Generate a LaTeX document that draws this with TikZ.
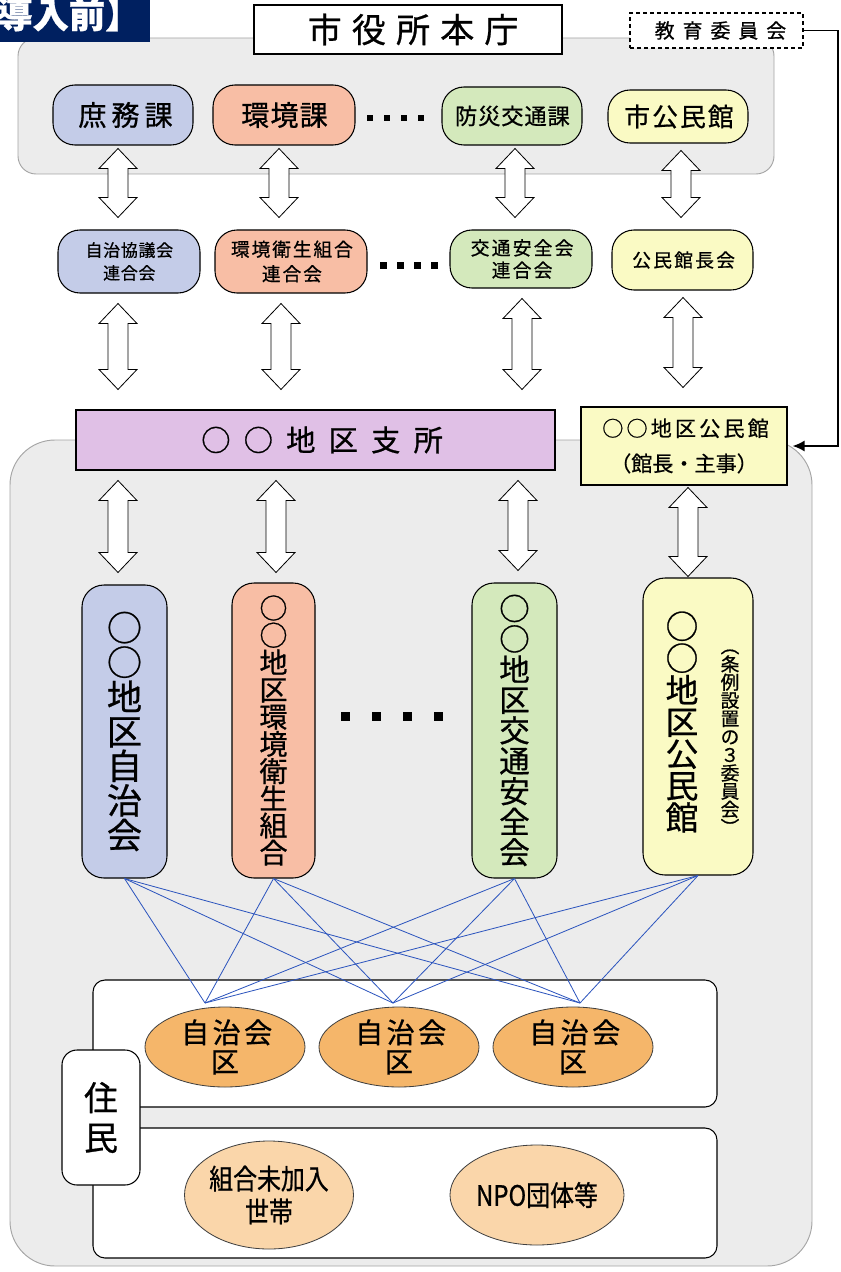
\documentclass[tikz,border=0pt]{standalone}
\usepackage{fontspec}
\setmainfont{Noto Sans CJK JP}[FakeBold=0.7]
\newfontfamily\jpnarrow{Noto Sans CJK JP}[FakeStretch=0.85,FakeBold=0.7]
\usetikzlibrary{calc,arrows.meta,shapes.geometric}
\definecolor{cblue}{RGB}{196,204,232}
\definecolor{csalmon}{RGB}{248,190,165}
\definecolor{cgreen}{RGB}{212,233,188}
\definecolor{cyellow}{RGB}{250,250,196}
\definecolor{cpurple}{RGB}{224,192,230}
\definecolor{cnavy}{RGB}{0,32,96}
\definecolor{cgray}{RGB}{236,236,236}
\definecolor{cgrayline}{RGB}{165,165,165}
\definecolor{corange}{RGB}{245,182,106}
\definecolor{cpeach}{RGB}{250,214,170}
\definecolor{cline}{RGB}{45,85,190}
\newcommand\fs[2]{\fontsize{#1}{#2}\selectfont}
\newcommand\lsp[2]{{\addfontfeatures{LetterSpace=#1}#2}\kern-#1\dimexpr 0.01em\relax}
\newcommand\harr[5]{%
  \draw[harrow] let \p0=(#1,0), \p1=(#2.south), \p2=(#4.north) in
   (\x0,\y1-#3) -- (\x0+5.7mm,\y1-#3-6mm) -- (\x0+3mm,\y1-#3-6mm)
   -- (\x0+3mm,\y2+#5+6mm) -- (\x0+5.7mm,\y2+#5+6mm) -- (\x0,\y2+#5)
   -- (\x0-5.7mm,\y2+#5+6mm) -- (\x0-3mm,\y2+#5+6mm)
   -- (\x0-3mm,\y1-#3-6mm) -- (\x0-5.7mm,\y1-#3-6mm) -- cycle;}
\begin{document}
\begin{tikzpicture}[x=0.3mm,y=-0.3mm,
  region/.style={fill=cgray,draw=cgrayline,line width=0.8pt},
  pill/.style={draw=black,line width=0.9pt,rounded corners=6.6mm,inner sep=0pt,align=center},
  sqbox/.style={draw=black,line width=0.9pt,inner sep=0pt,align=center},
  harrow/.style={draw=black,fill=white,line width=0.7pt,line join=miter},
  bline/.style={draw=cline,line width=0.7pt},
  wbox/.style={draw=black,fill=white,line width=0.9pt,rounded corners=3.6mm},
  oval/.style={ellipse,draw=black!75,line width=0.7pt,inner sep=0pt,align=center},
  dotsq/.style={fill=black}]
\useasboundingbox (0,0) rectangle (840,1272);
% background regions
\draw[region,rounded corners=5.4mm] (18,38) rectangle (774,174);
\draw[region,rounded corners=13.5mm] (10,440) rectangle (812,1266);
% title label
\fill[cnavy] (0,0) rectangle (150,42);
\begin{scope}
\clip (0,0) rectangle (150,42);
\node[anchor=west,inner sep=0pt,text=white,font=\fs{31}{31}\bfseries] (title) at (-4,14) {導入前】};
\end{scope}
% city hall and education board
\node[sqbox,fill=white,minimum width=92.4mm,minimum height=14.7mm,font=\fs{29}{29}] (hq) at (408,29.5) {\lsp{30}{市役所本庁}};
\node[sqbox,fill=white,dash pattern=on 1.2mm off 0.9mm,line width=1pt,minimum width=51.9mm,minimum height=10.5mm,font=\fs{17}{17}] (edu) at (716.5,30.5) {\lsp{40}{教育委員会}};
% top row
\node[pill,fill=cblue,minimum width=42mm,minimum height=18mm,font=\fs{24}{24}] (n1) at (123,115) {\lsp{18}{庶務課}};
\node[pill,fill=csalmon,minimum width=42.6mm,minimum height=18mm,font=\fs{24}{24}] (n2) at (284,115) {\lsp{4}{環境課}};
\node[pill,fill=cgreen,minimum width=42mm,minimum height=17.4mm,font=\fs{19}{19}] (n3) at (512,116) {\lsp{4}{防災交通課}};
\node[pill,fill=cyellow,minimum width=42mm,minimum height=15.9mm,font=\fs{22}{22}] (n4) at (678,116.5) {\lsp{8}{市公民館}};
\foreach \xx in {370,387,404,421} \fill[dotsq] (\xx-3,115) rectangle ++(6,6);
% second row
\node[pill,fill=cblue,minimum width=42.6mm,minimum height=18.9mm,font=\fs{14.5}{19.5}] (m1) at (129,261.5) {\lsp{4}{自治協議会}\\\lsp{4}{連合会}};
\node[pill,fill=csalmon,minimum width=45.6mm,minimum height=18.9mm,font=\fs{16}{21}] (m2) at (291,261.5) {\lsp{10}{環境衛生組合}\\\lsp{10}{連合会}};
\node[pill,fill=cgreen,minimum width=42.6mm,minimum height=17.4mm,font=\fs{16}{19}] (m3) at (521,259) {\lsp{12}{交通安全会}\\\lsp{12}{連合会}};
\node[pill,fill=cyellow,minimum width=42.3mm,minimum height=18mm,font=\fs{16}{16}] (m4) at (682.5,260) {\lsp{12}{公民館長会}};
\foreach \xx in {383,400,417,434} \fill[dotsq] (\xx-3.5,261.5) rectangle ++(7,7);
% district office and community hall
\node[sqbox,fill=cpurple,minimum width=143.7mm,minimum height=18mm,font=\fs{25}{25}] (s) at (315.5,440) {\lsp{45}{○○地区支所}};
\node[sqbox,fill=cyellow,minimum width=61.8mm,minimum height=23.4mm,font=\fs{18}{30}] (k) at (684,446) {\lsp{15}{○○地区公民館}\\（館長・主事）};
% tall boxes
\node[pill,fill=cblue,minimum width=25.5mm,minimum height=87.9mm,font=\fs{30}{29.5}] (t1) at (124.5,731.5) {○\\○\\地\\区\\自\\治\\会};
\node[pill,fill=csalmon,minimum width=24.9mm,minimum height=88.5mm,font=\fs{24}{23.2}] (t2) at (273.5,730.5) {○\\○\\地\\区\\環\\境\\衛\\生\\組\\合};
\node[pill,fill=cgreen,minimum width=25.5mm,minimum height=88.5mm,font=\fs{26}{26}] (t3) at (514.5,730.5) {○\\○\\地\\区\\交\\通\\安\\全\\会};
\node[pill,fill=cyellow,minimum width=33mm,minimum height=89.1mm] (t4) at (698,726.5) {};
\node[inner sep=0pt,align=center,font=\fs{28}{27.2}] (t4a) at (682,722) {○\\○\\地\\区\\公\\民\\館};
\node[inner sep=0pt,align=center,font=\fs{16}{15.5}] (t4b) at (730,742) {︵\\条\\例\\設\\置\\の\\３\\委\\員\\会\\︶};
\foreach \xx in {345,376,407,438} \fill[dotsq] (\xx-4.5,711.5) rectangle ++(9,9);
% hollow double arrows
\harr{118}{n1}{0.9mm}{m1}{3.6mm}
\harr{279}{n2}{0.9mm}{m2}{3.6mm}
\harr{515}{n3}{0.9mm}{m3}{3.6mm}
\harr{681}{n4}{2.1mm}{m4}{3.6mm}
\harr{118}{m1}{3mm}{s}{6mm}
\harr{281}{m2}{3mm}{s}{6mm}
\harr{522}{m3}{3mm}{s}{6mm}
\harr{683}{m4}{2.1mm}{k}{5.7mm}
\harr{118}{s}{3mm}{t1}{3.6mm}
\harr{276}{s}{3mm}{t2}{3mm}
\harr{518}{s}{3mm}{t3}{3.6mm}
\harr{688}{k}{0.6mm}{t4}{0.3mm}
% education board connector
\coordinate (rc) at (838,30.5);
\draw[line width=1.4pt,-{Latex[length=3.6mm,width=3.3mm]}] (edu.east) -- (rc) |- ([xshift=1.5mm]k.east);
% residents area
\node[wbox,minimum width=187.2mm,minimum height=38.1mm] (w1) at (405,1043.5) {};
\node[wbox,minimum width=187.2mm,minimum height=39mm] (w2) at (405,1193) {};
\node[wbox,rounded corners=4.5mm,minimum width=23.4mm,minimum height=40.5mm,align=center,font=\fs{29}{34}] (res) at (101,1117.5) {住\\民};
% blue links
\coordinate (c1) at (205,1003);
\coordinate (c2) at (393,1003);
\coordinate (c3) at (580,1003);
\foreach \a in {t1,t2,t3,t4} \foreach \b in {c1,c2,c3} \draw[bline] (\a.south) -- (\b);
% ellipses
\node[oval,fill=corange,minimum width=48mm,minimum height=24mm,font=\fs{24}{25}] (e1) at (225,1047) {\lsp{12}{自治会}\\区};
\node[oval,fill=corange,minimum width=48mm,minimum height=24mm,font=\fs{24}{25}] (e2) at (399,1047) {\lsp{12}{自治会}\\区};
\node[oval,fill=corange,minimum width=48mm,minimum height=24mm,font=\fs{24}{25}] (e3) at (573,1047) {\lsp{12}{自治会}\\区};
\node[oval,fill=cpeach,minimum width=45mm,minimum height=32.4mm,font=\jpnarrow\fs{24}{28}] (f1) at (269,1195) {組合未加入\\世帯};
\node[oval,fill=cpeach,minimum width=52.2mm,minimum height=30mm,font=\jpnarrow\fs{24}{24}] (f2) at (537,1195) {NPO団体等};
\end{tikzpicture}
\end{document}
